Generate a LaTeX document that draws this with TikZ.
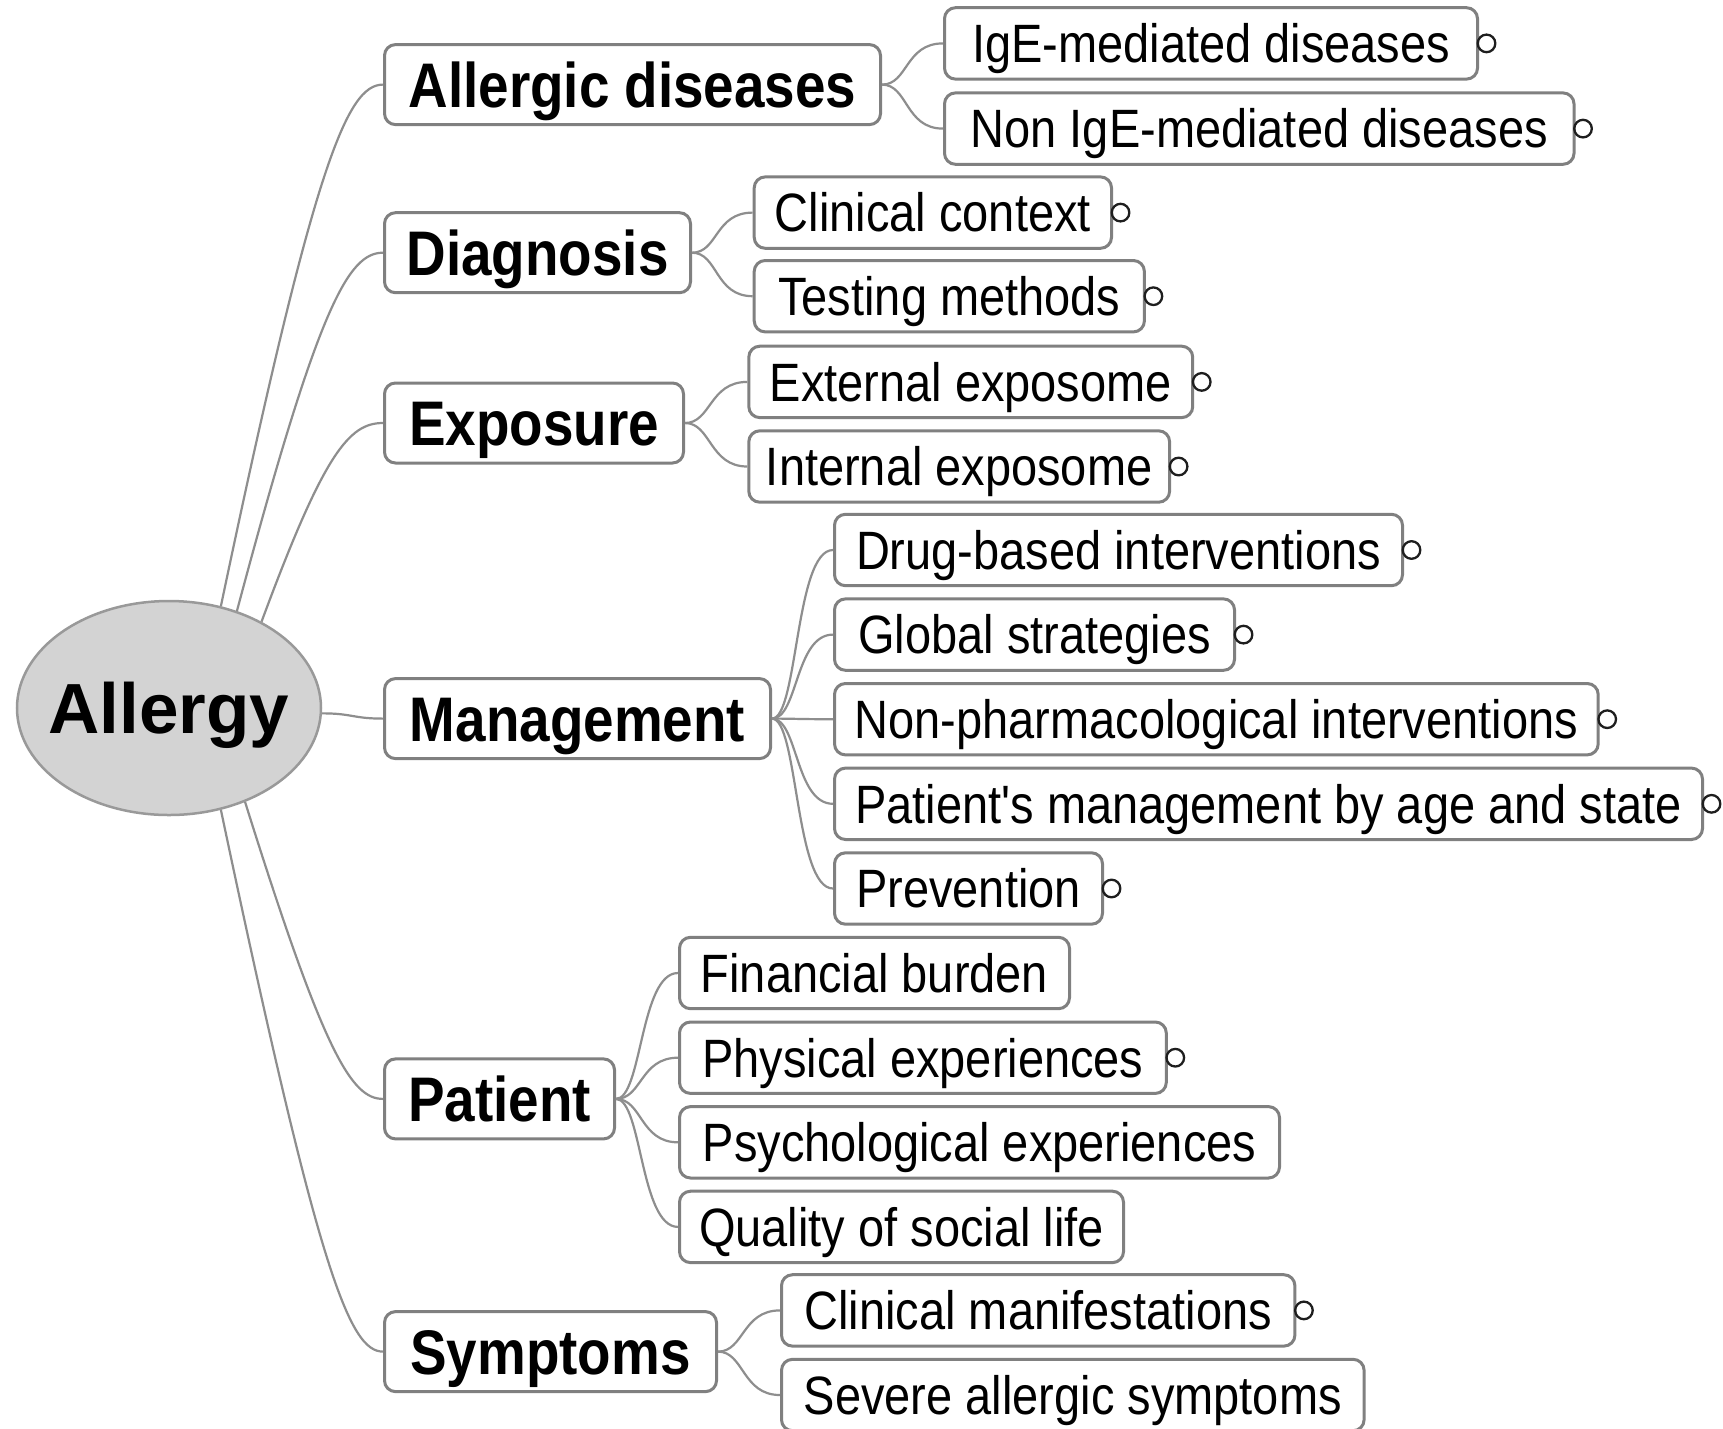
\documentclass[tikz,border=0pt]{standalone}
\usepackage{fontspec}
\setmainfont{Liberation Sans}
\newfontfamily\lvlfont{Liberation Sans}[FakeStretch=0.87]
\usetikzlibrary{shapes.geometric}
\definecolor{boxline}{HTML}{808080}
\definecolor{connline}{HTML}{8E8E8E}
\definecolor{rootfill}{HTML}{D3D3D3}
\definecolor{rootline}{HTML}{999999}
\definecolor{knobline}{HTML}{1E1E1E}
\begin{document}
\begin{tikzpicture}[x=1pt,y=-1pt,
  boxbase/.style={draw=boxline, line width=3pt, rounded corners=11pt, fill=white, inner sep=0pt, anchor=west, text=black},
  topic/.style={boxbase, minimum height=80pt, text height=45pt, text depth=0pt, font=\lvlfont\bfseries\fontsize{63}{70}\selectfont},
  sub/.style={boxbase, minimum height=71.4pt, text height=38.7pt, text depth=0pt, font=\lvlfont\fontsize{54}{60}\selectfont},
  conn/.style={draw=connline, line width=2.2pt},
  knob/.style={circle, draw=knobline, line width=2.3pt, minimum size=17.6pt, inner sep=0pt, xshift=7.5pt}
]
\useasboundingbox[fill=white] (0,0) rectangle (1723,1428);

% root
\node[ellipse, draw=rootline, fill=rootfill, line width=2.5pt, minimum width=304pt, minimum height=214pt,
      inner sep=0pt, text height=51pt, text depth=0pt, font=\bfseries\fontsize{71}{80}\selectfont] (root) at (169,708) {\makebox[0pt][c]{Allergy}};

% level 1
\node[topic, minimum width=496pt] (allergic) at (383,84.6) {Allergic diseases};
\node[topic, minimum width=306pt] (diagnosis) at (383,252.7) {Diagnosis};
\node[topic, minimum width=299pt] (exposure) at (383,423) {Exposure};
\node[topic, minimum width=386pt] (management) at (383,718.6) {Management};
\node[topic, minimum width=230pt] (patient) at (383,1098.9) {Patient};
\node[topic, minimum width=332pt] (symptoms) at (383,1351.6) {Symptoms};

% level 2
\node[sub, minimum width=533pt] (ige) at (943,43.4) {IgE-mediated diseases};
\node[sub, minimum width=629.5pt] (nonige) at (943,128.6) {Non IgE-mediated diseases};
\node[sub, minimum width=357.3pt] (clinctx) at (752.7,212.6) {Clinical context};
\node[sub, minimum width=390.2pt] (testing) at (752.7,296.2) {Testing methods};
\node[sub, minimum width=443.9pt] (external) at (747.3,381.9) {External exposome};
\node[sub, minimum width=420.8pt] (internal) at (747.3,466.5) {Internal exposome};
\node[sub, minimum width=568pt] (drug) at (833,550) {Drug-based interventions};
\node[sub, minimum width=400pt] (global) at (833,634.6) {Global strategies};
\node[sub, minimum width=763.7pt] (nonpharm) at (833,719.2) {Non-pharmacological interventions};
\node[sub, minimum width=868pt] (patmgmt) at (833,803.8) {Patient's management by age and state};
\node[sub, minimum width=268pt] (prevention) at (833,888.5) {Prevention};
\node[sub, minimum width=390pt] (financial) at (678,973) {Financial burden};
\node[sub, minimum width=486.8pt] (physical) at (678,1057.7) {Physical experiences};
\node[sub, minimum width=600pt] (psych) at (678,1142.3) {Psychological experiences};
\node[sub, minimum width=444pt] (quality) at (678,1226.9) {Quality of social life};
\node[sub, minimum width=513.4pt] (climan) at (780,1310.4) {Clinical manifestations};
\node[sub, minimum width=582.6pt] (severe) at (780,1395) {Severe allergic symptoms};

% knobs
\node[knob] (k1) at (ige.east) {};
\node[knob] (k2) at (nonige.east) {};
\node[knob] (k3) at (clinctx.east) {};
\node[knob] (k4) at (testing.east) {};
\node[knob] (k5) at (external.east) {};
\node[knob] (k6) at (internal.east) {};
\node[knob] (k7) at (drug.east) {};
\node[knob] (k8) at (global.east) {};
\node[knob] (k9) at (nonpharm.east) {};
\node[knob] (k10) at (patmgmt.east) {};
\node[knob] (k11) at (prevention.east) {};
\node[knob] (k12) at (physical.east) {};
\node[knob] (k13) at (climan.east) {};

% root connectors
\draw[conn] (root.63) .. controls (314,163) and (347,84.6) .. (allergic.west);
\draw[conn] (root.55) .. controls (318,307) and (348,252.7) .. (diagnosis.west);
\draw[conn] (root.43) .. controls (324,453) and (349,423) .. (exposure.west);
\draw[conn] (root.-2) .. controls +(30,0) and +(-30,0) .. (management.west);
\draw[conn] (root.-51) .. controls (324,1054) and (351.5,1098.9) .. (patient.west);
\draw[conn] (root.-63) .. controls (318,1270) and (349,1351.6) .. (symptoms.west);

% level-1 to level-2 connectors
\foreach \p/\c in {allergic/ige, allergic/nonige, diagnosis/clinctx, diagnosis/testing,
  exposure/external, exposure/internal, management/drug, management/global,
  management/nonpharm, management/patmgmt, management/prevention,
  patient/financial, patient/physical, patient/psych, patient/quality,
  symptoms/climan, symptoms/severe}
  \draw[conn] (\p.east) .. controls +(26,0) and +(-38,0) .. (\c.west);
\end{tikzpicture}
\end{document}
